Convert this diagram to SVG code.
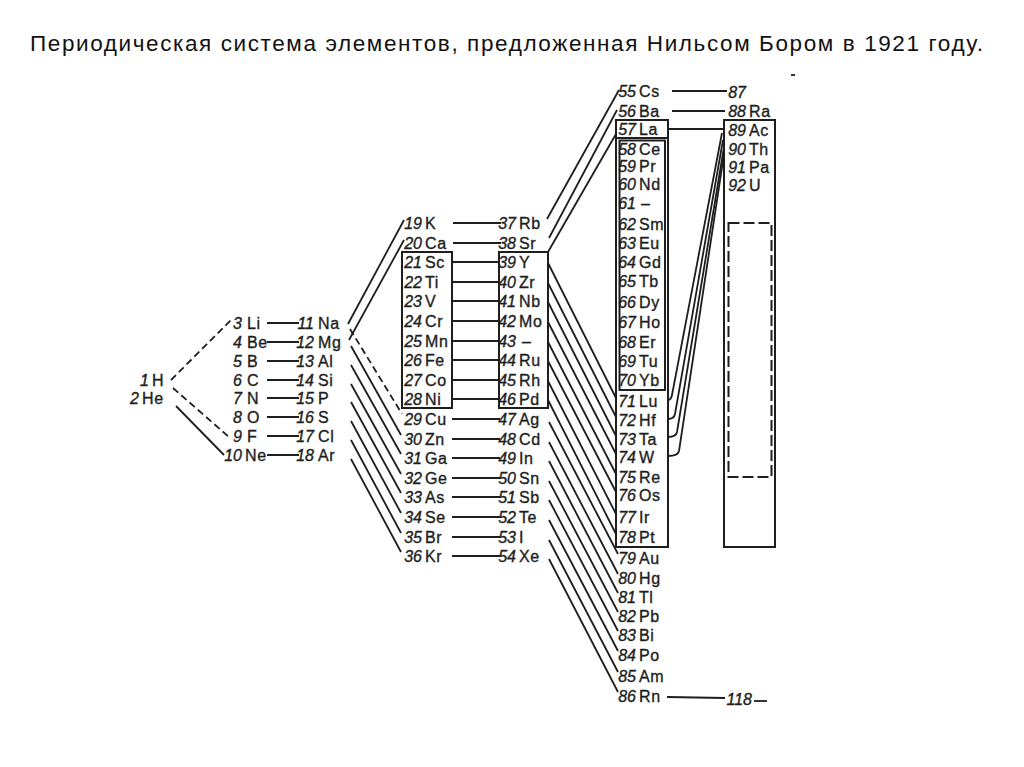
<svg xmlns="http://www.w3.org/2000/svg" width="1024" height="767" viewBox="0 0 1024 767">
<style>
.bg{fill:#ffffff}
.title{font-family:"Liberation Sans",Arial,sans-serif;font-size:22.5px;fill:#111}
.n{font-family:"Liberation Sans Narrow","Liberation Sans",Arial,sans-serif;font-style:italic;font-size:16px;text-anchor:end;fill:#1e1e1e;stroke:#1e1e1e;stroke-width:0.35}
.s{font-family:"Liberation Sans",Arial,sans-serif;font-size:16px;letter-spacing:0.6px;fill:#1e1e1e;stroke:#1e1e1e;stroke-width:0.35}
.ln{stroke:#1e1e1e;stroke-width:1.8;fill:none}
.dash{stroke-dasharray:7 4}
.box{fill:none;stroke:#1e1e1e;stroke-width:2}
.dbox{fill:none;stroke:#1e1e1e;stroke-width:2;stroke-dasharray:11 4}
</style>
<rect class="bg" x="0" y="0" width="1024" height="767"/>
<text class="title" x="30" y="51" textLength="953">Периодическая система элементов, предложенная Нильсом Бором в 1921 году.</text>

<g id="frames">
<rect id="box-21-28" class="box" x="402" y="252" width="50" height="156"/>
<rect id="box-39-46" class="box" x="499" y="252" width="49" height="156"/>
<rect id="box-57-78" class="box" x="616" y="120" width="52" height="427"/>
<line class="box" x1="616" y1="138" x2="668" y2="138"/>
<rect id="box-58-70" class="box" x="619.5" y="140.5" width="45.5" height="249.5"/>
<rect id="box-89-92" class="box" x="724" y="120" width="51" height="427"/>
<rect id="box-unknown" class="dbox" x="728.5" y="223" width="43" height="254"/>
</g>

<g id="connectors">
<path class="ln dash" d="M171 380 L231 320"/>
<path class="ln dash" d="M173 388 L229 437"/>
<path class="ln" d="M176 406 L224 455"/>
<path class="ln" d="M267 323 H299 M267 342 H299 M267 361 H299 M267 380 H299 M267 398 H299 M267 417 H299 M267 436 H299 M267 455 H299"/>
<path class="ln" d="M348 324 L404 220"/>
<path class="ln" d="M349 340 L404 240"/>
<path class="ln dash" d="M350 329 L402 414"/>
<path class="ln" d="M351 346 L401 435 M351 365 L401 454 M351 384 L401 474 M351 402 L401 493 M351 421 L401 513 M351 440 L401 533 M351 459 L401 552"/>
<path class="ln" d="M453 223 H501 M453 243 H501 M452 262 H499 M452 282 H499 M452 301 H499 M452 321 H499 M452 341 H499 M452 360 H499 M452 380 H499 M452 399 H499 M452 419 H500 M452 439 H500 M452 458 H500 M452 478 H500 M452 497 H500 M452 517 H500 M452 537 H500 M452 556 H500"/>
<path class="ln" d="M547 219 L619 90"/>
<path class="ln" d="M549 238 L617 110"/>
<path class="ln" d="M548 252 L616 134"/>
<path class="ln" d="M548 263 L616 398 M548 283 L616 417 M548 302 L616 436 M548 322 L616 454 M548 342 L616 474 M548 361 L616 492 M548 381 L616 514 M548 400 L616 534"/>
<path class="ln" d="M549 422 L618 554 M549 442 L618 574 M549 461 L618 593 M549 481 L618 612 M549 500 L618 631 M549 520 L618 651 M549 540 L618 672 M549 559 L618 692"/>
<path class="ln" d="M672 91 H727 M672 111 H725 M668 129 H724"/>
<path class="ln" d="M722 133 L672 395 Q671 400 668 400"/>
<path class="ln" d="M723 140 L675 414 Q674 419 668 419"/>
<path class="ln" d="M724 147 L677 432 Q676 437 668 437"/>
<path class="ln" d="M724 154 L679 451 Q678 456 668 456"/>
<path class="ln" d="M667 697 L725 698"/>
<path class="ln" d="M754 701 H767"/>
<path class="ln" d="M791 75 H795"/>
</g>

<g id="el-1"><text class="n" x="149" y="386">1</text><text class="s" x="152" y="386">H</text></g>
<g id="el-2"><text class="n" x="139" y="404">2</text><text class="s" x="142" y="404">He</text></g>

<g id="el-3"><text class="n" x="242" y="329">3</text><text class="s" x="247" y="329">Li</text></g>
<g id="el-4"><text class="n" x="242" y="348">4</text><text class="s" x="247" y="348">Be</text></g>
<g id="el-5"><text class="n" x="242" y="367">5</text><text class="s" x="247" y="367">B</text></g>
<g id="el-6"><text class="n" x="242" y="386">6</text><text class="s" x="247" y="386">C</text></g>
<g id="el-7"><text class="n" x="242" y="404">7</text><text class="s" x="247" y="404">N</text></g>
<g id="el-8"><text class="n" x="242" y="423">8</text><text class="s" x="247" y="423">O</text></g>
<g id="el-9"><text class="n" x="242" y="442">9</text><text class="s" x="247" y="442">F</text></g>
<g id="el-10"><text class="n" x="242" y="461">10</text><text class="s" x="245" y="461">Ne</text></g>

<g id="el-11"><text class="n" x="314" y="329">11</text><text class="s" x="318" y="329">Na</text></g>
<g id="el-12"><text class="n" x="314" y="348">12</text><text class="s" x="318" y="348">Mg</text></g>
<g id="el-13"><text class="n" x="314" y="367">13</text><text class="s" x="318" y="367">Al</text></g>
<g id="el-14"><text class="n" x="314" y="386">14</text><text class="s" x="318" y="386">Si</text></g>
<g id="el-15"><text class="n" x="314" y="404">15</text><text class="s" x="318" y="404">P</text></g>
<g id="el-16"><text class="n" x="314" y="423">16</text><text class="s" x="318" y="423">S</text></g>
<g id="el-17"><text class="n" x="314" y="442">17</text><text class="s" x="318" y="442">Cl</text></g>
<g id="el-18"><text class="n" x="314" y="461">18</text><text class="s" x="318" y="461">Ar</text></g>

<g id="el-19"><text class="n" x="422" y="229">19</text><text class="s" x="425" y="229">K</text></g>
<g id="el-20"><text class="n" x="422" y="249">20</text><text class="s" x="425" y="249">Ca</text></g>
<g id="el-21"><text class="n" x="422" y="268">21</text><text class="s" x="425" y="268">Sc</text></g>
<g id="el-22"><text class="n" x="422" y="288">22</text><text class="s" x="425" y="288">Ti</text></g>
<g id="el-23"><text class="n" x="422" y="307">23</text><text class="s" x="425" y="307">V</text></g>
<g id="el-24"><text class="n" x="422" y="327">24</text><text class="s" x="425" y="327">Cr</text></g>
<g id="el-25"><text class="n" x="422" y="347">25</text><text class="s" x="425" y="347">Mn</text></g>
<g id="el-26"><text class="n" x="422" y="366">26</text><text class="s" x="425" y="366">Fe</text></g>
<g id="el-27"><text class="n" x="422" y="386">27</text><text class="s" x="425" y="386">Co</text></g>
<g id="el-28"><text class="n" x="422" y="405">28</text><text class="s" x="425" y="405">Ni</text></g>
<g id="el-29"><text class="n" x="422" y="425">29</text><text class="s" x="425" y="425">Cu</text></g>
<g id="el-30"><text class="n" x="422" y="445">30</text><text class="s" x="425" y="445">Zn</text></g>
<g id="el-31"><text class="n" x="422" y="464">31</text><text class="s" x="425" y="464">Ga</text></g>
<g id="el-32"><text class="n" x="422" y="484">32</text><text class="s" x="425" y="484">Ge</text></g>
<g id="el-33"><text class="n" x="422" y="503">33</text><text class="s" x="425" y="503">As</text></g>
<g id="el-34"><text class="n" x="422" y="523">34</text><text class="s" x="425" y="523">Se</text></g>
<g id="el-35"><text class="n" x="422" y="543">35</text><text class="s" x="425" y="543">Br</text></g>
<g id="el-36"><text class="n" x="422" y="562">36</text><text class="s" x="425" y="562">Kr</text></g>

<g id="el-37"><text class="n" x="516" y="229">37</text><text class="s" x="519" y="229">Rb</text></g>
<g id="el-38"><text class="n" x="516" y="249">38</text><text class="s" x="519" y="249">Sr</text></g>
<g id="el-39"><text class="n" x="516" y="268">39</text><text class="s" x="519" y="268">Y</text></g>
<g id="el-40"><text class="n" x="516" y="288">40</text><text class="s" x="519" y="288">Zr</text></g>
<g id="el-41"><text class="n" x="516" y="307">41</text><text class="s" x="519" y="307">Nb</text></g>
<g id="el-42"><text class="n" x="516" y="327">42</text><text class="s" x="519" y="327">Mo</text></g>
<g id="el-43"><text class="n" x="516" y="347">43</text><text class="s" x="522" y="347">–</text></g>
<g id="el-44"><text class="n" x="516" y="366">44</text><text class="s" x="519" y="366">Ru</text></g>
<g id="el-45"><text class="n" x="516" y="386">45</text><text class="s" x="519" y="386">Rh</text></g>
<g id="el-46"><text class="n" x="516" y="405">46</text><text class="s" x="519" y="405">Pd</text></g>
<g id="el-47"><text class="n" x="516" y="425">47</text><text class="s" x="519" y="425">Ag</text></g>
<g id="el-48"><text class="n" x="516" y="445">48</text><text class="s" x="519" y="445">Cd</text></g>
<g id="el-49"><text class="n" x="516" y="464">49</text><text class="s" x="519" y="464">In</text></g>
<g id="el-50"><text class="n" x="516" y="484">50</text><text class="s" x="519" y="484">Sn</text></g>
<g id="el-51"><text class="n" x="516" y="503">51</text><text class="s" x="519" y="503">Sb</text></g>
<g id="el-52"><text class="n" x="516" y="523">52</text><text class="s" x="519" y="523">Te</text></g>
<g id="el-53"><text class="n" x="516" y="543">53</text><text class="s" x="519" y="543">I</text></g>
<g id="el-54"><text class="n" x="516" y="562">54</text><text class="s" x="519" y="562">Xe</text></g>

<g id="el-55"><text class="n" x="636" y="97">55</text><text class="s" x="639" y="97">Cs</text></g>
<g id="el-56"><text class="n" x="636" y="117">56</text><text class="s" x="639" y="117">Ba</text></g>
<g id="el-57"><text class="n" x="636" y="135">57</text><text class="s" x="639" y="135">La</text></g>
<g id="el-58"><text class="n" x="636" y="155">58</text><text class="s" x="639" y="155">Ce</text></g>
<g id="el-59"><text class="n" x="636" y="172">59</text><text class="s" x="639" y="172">Pr</text></g>
<g id="el-60"><text class="n" x="636" y="190">60</text><text class="s" x="639" y="190">Nd</text></g>
<g id="el-61"><text class="n" x="636" y="209">61</text><text class="s" x="641" y="209">–</text></g>
<g id="el-62"><text class="n" x="636" y="230">62</text><text class="s" x="639" y="230">Sm</text></g>
<g id="el-63"><text class="n" x="636" y="249">63</text><text class="s" x="639" y="249">Eu</text></g>
<g id="el-64"><text class="n" x="636" y="268">64</text><text class="s" x="639" y="268">Gd</text></g>
<g id="el-65"><text class="n" x="636" y="287">65</text><text class="s" x="639" y="287">Tb</text></g>
<g id="el-66"><text class="n" x="636" y="308">66</text><text class="s" x="639" y="308">Dy</text></g>
<g id="el-67"><text class="n" x="636" y="328">67</text><text class="s" x="639" y="328">Ho</text></g>
<g id="el-68"><text class="n" x="636" y="348">68</text><text class="s" x="639" y="348">Er</text></g>
<g id="el-69"><text class="n" x="636" y="367">69</text><text class="s" x="639" y="367">Tu</text></g>
<g id="el-70"><text class="n" x="636" y="386">70</text><text class="s" x="639" y="386">Yb</text></g>
<g id="el-71"><text class="n" x="636" y="407">71</text><text class="s" x="639" y="407">Lu</text></g>
<g id="el-72"><text class="n" x="636" y="426">72</text><text class="s" x="639" y="426">Hf</text></g>
<g id="el-73"><text class="n" x="636" y="445">73</text><text class="s" x="639" y="445">Ta</text></g>
<g id="el-74"><text class="n" x="636" y="463">74</text><text class="s" x="639" y="463">W</text></g>
<g id="el-75"><text class="n" x="636" y="483">75</text><text class="s" x="639" y="483">Re</text></g>
<g id="el-76"><text class="n" x="636" y="501">76</text><text class="s" x="639" y="501">Os</text></g>
<g id="el-77"><text class="n" x="636" y="523">77</text><text class="s" x="639" y="523">Ir</text></g>
<g id="el-78"><text class="n" x="636" y="543">78</text><text class="s" x="639" y="543">Pt</text></g>
<g id="el-79"><text class="n" x="636" y="564">79</text><text class="s" x="639" y="564">Au</text></g>
<g id="el-80"><text class="n" x="636" y="584">80</text><text class="s" x="639" y="584">Hg</text></g>
<g id="el-81"><text class="n" x="636" y="603">81</text><text class="s" x="639" y="603">Tl</text></g>
<g id="el-82"><text class="n" x="636" y="622">82</text><text class="s" x="639" y="622">Pb</text></g>
<g id="el-83"><text class="n" x="636" y="641">83</text><text class="s" x="639" y="641">Bi</text></g>
<g id="el-84"><text class="n" x="636" y="661">84</text><text class="s" x="639" y="661">Po</text></g>
<g id="el-85"><text class="n" x="636" y="682">85</text><text class="s" x="639" y="682">Am</text></g>
<g id="el-86"><text class="n" x="636" y="702">86</text><text class="s" x="639" y="702">Rn</text></g>

<g id="el-87"><text class="n" x="746" y="98">87</text></g>
<g id="el-88"><text class="n" x="746" y="117">88</text><text class="s" x="749" y="117">Ra</text></g>
<g id="el-89"><text class="n" x="746" y="136">89</text><text class="s" x="749" y="136">Ac</text></g>
<g id="el-90"><text class="n" x="746" y="155">90</text><text class="s" x="749" y="155">Th</text></g>
<g id="el-91"><text class="n" x="746" y="173">91</text><text class="s" x="749" y="173">Pa</text></g>
<g id="el-92"><text class="n" x="746" y="191">92</text><text class="s" x="749" y="191">U</text></g>
<g id="el-118"><text class="n" x="752" y="705">118</text></g>
</svg>
